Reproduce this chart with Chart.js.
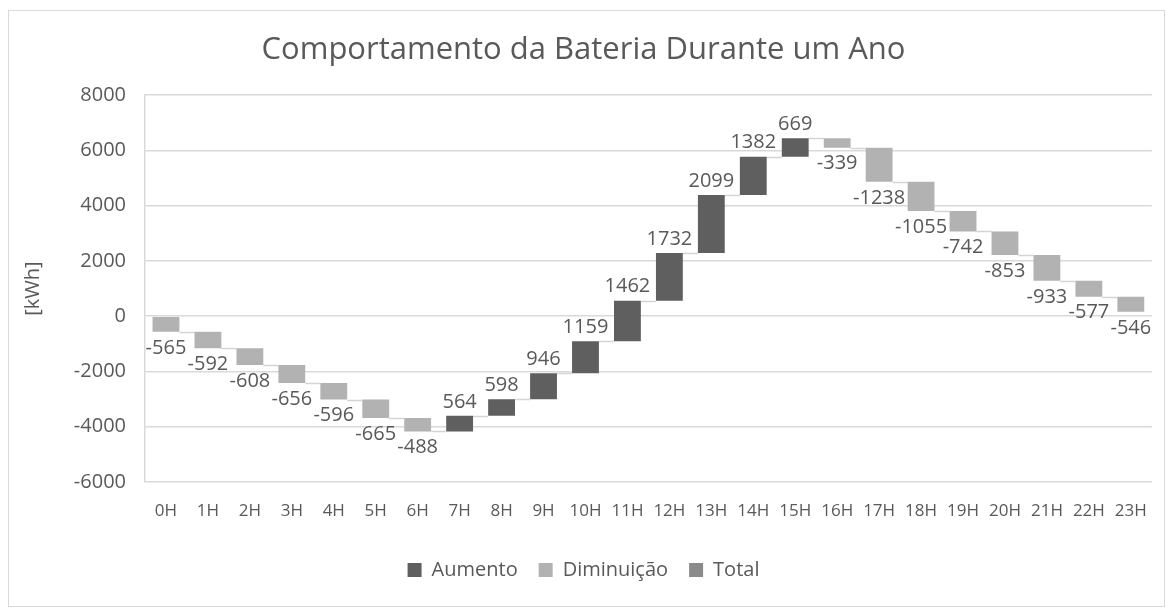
<!DOCTYPE html>
<html>
<head>
<meta charset="utf-8">
<script src="https://cdn.jsdelivr.net/npm/chart.js@4.4.1/dist/chart.umd.min.js"></script>
<style>
  html, body { margin: 0; padding: 0; background: #ffffff; }
  #wrap { width: 1166px; height: 608px; position: relative; }
</style>
</head>
<body>
<div id="wrap"><canvas id="c" width="1166" height="608"></canvas></div>
<script>
// ---- data ----
const categories = ['0H','1H','2H','3H','4H','5H','6H','7H','8H','9H','10H','11H','12H','13H','14H','15H','16H','17H','18H','19H','20H','21H','22H','23H'];
const deltas = [-565,-592,-608,-656,-596,-665,-488,564,598,946,1159,1462,1732,2099,1382,669,-339,-1238,-1055,-742,-853,-933,-577,-546];
const yTicks = [-6000,-4000,-2000,0,2000,4000,6000,8000];
const seriesNames = ['Aumento','Diminuição','Total'];
const titleText = 'Comportamento da Bateria Durante um Ano';
const yTitle = '[kWh]';

// ---- derived floating bars ----
const starts = [];
const ends = [];
let run = 0;
for (let i = 0; i < deltas.length; i++) {
  starts.push(run);
  run += deltas[i];
  ends.push(run);
}
const upData = deltas.map((d, i) => d >= 0 ? [starts[i], ends[i]] : null);
const downData = deltas.map((d, i) => d < 0 ? [starts[i], ends[i]] : null);
const totalData = deltas.map(() => null);

const FONT = '"Open Sans", "Segoe UI", sans-serif';
const TXT = '#595959';
const GRID = '#d9d9d9';

const framePlugin = {
  id: 'frame',
  beforeDraw(chart) {
    const ctx = chart.ctx;
    ctx.save();
    ctx.fillStyle = '#ffffff';
    ctx.fillRect(0, 0, chart.width, chart.height);
    ctx.strokeStyle = '#d9d9d9';
    ctx.lineWidth = 1;
    ctx.strokeRect(8.5, 10.5, 1156, 596);
    ctx.restore();
  }
};

function barAt(chart, i) {
  for (let d = 0; d < 2; d++) {
    const ds = chart.data.datasets[d];
    if (ds.data[i] !== null) return chart.getDatasetMeta(d).data[i];
  }
  return null;
}

const connectorPlugin = {
  id: 'connectors',
  beforeDatasetsDraw(chart) {
    const ctx = chart.ctx;
    const y = chart.scales.y;
    ctx.save();
    ctx.strokeStyle = '#d4d4d4';
    ctx.lineWidth = 1.5;
    for (let i = 0; i < ends.length - 1; i++) {
      const a = barAt(chart, i), b = barAt(chart, i + 1);
      if (!a || !b) continue;
      const py = Math.round(y.getPixelForValue(ends[i])) + 0.5;
      ctx.beginPath();
      ctx.moveTo(a.x + a.width / 2, py);
      ctx.lineTo(b.x - b.width / 2, py);
      ctx.stroke();
    }
    ctx.restore();
  }
};

const labelPlugin = {
  id: 'barLabels',
  afterDatasetsDraw(chart) {
    const ctx = chart.ctx;
    const y = chart.scales.y;
    ctx.save();
    ctx.font = '20px ' + FONT;
    ctx.fillStyle = TXT;
    ctx.textAlign = 'center';
    ctx.textBaseline = 'middle';
    for (let i = 0; i < deltas.length; i++) {
      const el = barAt(chart, i);
      if (!el) continue;
      const txt = String(deltas[i]);
      const py = y.getPixelForValue(ends[i]);
      if (deltas[i] >= 0) {
        ctx.fillText(txt, el.x, py - 14);
      } else {
        ctx.fillText(txt, el.x, py + 16);
      }
    }
    ctx.restore();
  }
};

new Chart(document.getElementById('c'), {
  type: 'bar',
  data: {
    labels: categories,
    datasets: [
      { label: seriesNames[0], data: upData, backgroundColor: '#5f5f5f', grouped: false, barPercentage: 0.64, categoryPercentage: 1.0 },
      { label: seriesNames[1], data: downData, backgroundColor: '#b2b2b2', grouped: false, barPercentage: 0.64, categoryPercentage: 1.0 },
      { label: seriesNames[2], data: totalData, backgroundColor: '#8a8a8a', grouped: false, barPercentage: 0.64, categoryPercentage: 1.0 }
    ]
  },
  options: {
    responsive: false,
    animation: false,
    layout: { padding: { top: 13, left: 10, right: 9, bottom: 18 } },
    plugins: {
      title: {
        display: true,
        text: titleText,
        color: TXT,
        font: { family: FONT, size: 31, weight: 'normal' },
        padding: { top: 19, bottom: 26 }
      },
      legend: {
        position: 'bottom',
        labels: {
          color: TXT,
          font: { family: FONT, size: 20 },
          boxWidth: 14,
          boxHeight: 14,
          padding: 21
        }
      },
      tooltip: { enabled: false }
    },
    scales: {
      x: {
        grid: { display: false, drawTicks: false },
        border: { display: false },
        ticks: { color: TXT, font: { family: FONT, size: 17 }, padding: 19, maxRotation: 0, autoSkip: false },
        afterFit(scale) { scale.height = 57; }
      },
      y: {
        min: -6000,
        max: 8000,
        afterBuildTicks(scale) { scale.ticks = yTicks.map(v => ({ value: v })); },
        grid: { color: GRID, lineWidth: 1.5, drawTicks: false },
        border: { display: true, color: GRID, width: 1.5 },
        ticks: { color: TXT, font: { family: FONT, size: 20 }, padding: 19, callback: v => String(v) },
        title: { display: true, text: yTitle, color: TXT, font: { family: FONT, size: 20 }, padding: { top: 11, bottom: 0 } },
        afterFit(scale) { scale.width = 135; }
      }
    }
  },
  plugins: [framePlugin, connectorPlugin, labelPlugin]
});
</script>
</body>
</html>
